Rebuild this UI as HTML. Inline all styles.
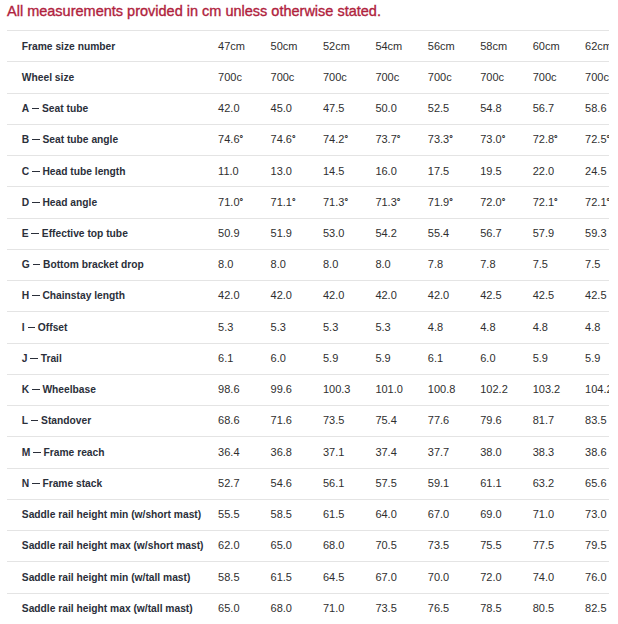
<!DOCTYPE html><html><head><meta charset="utf-8"><style>
html,body{margin:0;padding:0;background:#fff;}
body{width:618px;height:624px;position:relative;overflow:hidden;font-family:"Liberation Sans",sans-serif;}
.t{position:absolute;left:7px;top:4px;font-size:14.5px;color:#b0223d;white-space:nowrap;line-height:1;-webkit-text-stroke:0.35px #b0223d;letter-spacing:0px}
.wrap{position:absolute;left:0;top:0;width:609px;height:624px;overflow:hidden}
.ln{position:absolute;left:7px;width:602px;height:1px;background:#e4e4e4}
.l{position:absolute;left:21.8px;font-weight:bold;font-size:10.25px;color:#2b2f3a;white-space:nowrap;line-height:1;letter-spacing:0px;-webkit-text-stroke:0px #2b2f3a}
.v{position:absolute;font-size:11px;color:#2f2f2f;white-space:nowrap;line-height:1;letter-spacing:0px}
.deg{font-size:9px;-webkit-text-stroke:0.3px #2f2f2f;vertical-align:1.5px}
.d{display:inline-block;width:7.5px;height:1.2px;background:#2b2f3a;vertical-align:2.6px}
</style></head><body>
<div class="t">All measurements provided in cm unless otherwise stated.</div>
<div class="wrap">
<div class="ln" style="top:30.20px"></div>
<div class="ln" style="top:61.44px"></div>
<div class="ln" style="top:92.68px"></div>
<div class="ln" style="top:123.92px"></div>
<div class="ln" style="top:155.16px"></div>
<div class="ln" style="top:186.40px"></div>
<div class="ln" style="top:217.64px"></div>
<div class="ln" style="top:248.88px"></div>
<div class="ln" style="top:280.12px"></div>
<div class="ln" style="top:311.36px"></div>
<div class="ln" style="top:342.60px"></div>
<div class="ln" style="top:373.84px"></div>
<div class="ln" style="top:405.08px"></div>
<div class="ln" style="top:436.32px"></div>
<div class="ln" style="top:467.56px"></div>
<div class="ln" style="top:498.80px"></div>
<div class="ln" style="top:530.04px"></div>
<div class="ln" style="top:561.28px"></div>
<div class="ln" style="top:592.52px"></div>
<div class="l" style="top:42.00px">Frame size number</div>
<div class="v" style="left:218.10px;top:41.00px">47cm</div>
<div class="v" style="left:270.53px;top:41.00px">50cm</div>
<div class="v" style="left:322.96px;top:41.00px">52cm</div>
<div class="v" style="left:375.39px;top:41.00px">54cm</div>
<div class="v" style="left:427.82px;top:41.00px">56cm</div>
<div class="v" style="left:480.25px;top:41.00px">58cm</div>
<div class="v" style="left:532.68px;top:41.00px">60cm</div>
<div class="v" style="left:585.11px;top:41.00px">62cm</div>
<div class="l" style="top:73.00px">Wheel size</div>
<div class="v" style="left:218.10px;top:72.00px">700c</div>
<div class="v" style="left:270.53px;top:72.00px">700c</div>
<div class="v" style="left:322.96px;top:72.00px">700c</div>
<div class="v" style="left:375.39px;top:72.00px">700c</div>
<div class="v" style="left:427.82px;top:72.00px">700c</div>
<div class="v" style="left:480.25px;top:72.00px">700c</div>
<div class="v" style="left:532.68px;top:72.00px">700c</div>
<div class="v" style="left:585.11px;top:72.00px">700c</div>
<div class="l" style="top:104.00px">A <span class="d"></span> Seat tube</div>
<div class="v" style="left:218.10px;top:103.00px">42.0</div>
<div class="v" style="left:270.53px;top:103.00px">45.0</div>
<div class="v" style="left:322.96px;top:103.00px">47.5</div>
<div class="v" style="left:375.39px;top:103.00px">50.0</div>
<div class="v" style="left:427.82px;top:103.00px">52.5</div>
<div class="v" style="left:480.25px;top:103.00px">54.8</div>
<div class="v" style="left:532.68px;top:103.00px">56.7</div>
<div class="v" style="left:585.11px;top:103.00px">58.6</div>
<div class="l" style="top:135.00px">B <span class="d"></span> Seat tube angle</div>
<div class="v" style="left:218.10px;top:134.00px">74.6<span class="deg">°</span></div>
<div class="v" style="left:270.53px;top:134.00px">74.6<span class="deg">°</span></div>
<div class="v" style="left:322.96px;top:134.00px">74.2<span class="deg">°</span></div>
<div class="v" style="left:375.39px;top:134.00px">73.7<span class="deg">°</span></div>
<div class="v" style="left:427.82px;top:134.00px">73.3<span class="deg">°</span></div>
<div class="v" style="left:480.25px;top:134.00px">73.0<span class="deg">°</span></div>
<div class="v" style="left:532.68px;top:134.00px">72.8<span class="deg">°</span></div>
<div class="v" style="left:585.11px;top:134.00px">72.5<span class="deg">°</span></div>
<div class="l" style="top:167.00px">C <span class="d"></span> Head tube length</div>
<div class="v" style="left:218.10px;top:166.00px">11.0</div>
<div class="v" style="left:270.53px;top:166.00px">13.0</div>
<div class="v" style="left:322.96px;top:166.00px">14.5</div>
<div class="v" style="left:375.39px;top:166.00px">16.0</div>
<div class="v" style="left:427.82px;top:166.00px">17.5</div>
<div class="v" style="left:480.25px;top:166.00px">19.5</div>
<div class="v" style="left:532.68px;top:166.00px">22.0</div>
<div class="v" style="left:585.11px;top:166.00px">24.5</div>
<div class="l" style="top:198.00px">D <span class="d"></span> Head angle</div>
<div class="v" style="left:218.10px;top:197.00px">71.0<span class="deg">°</span></div>
<div class="v" style="left:270.53px;top:197.00px">71.1<span class="deg">°</span></div>
<div class="v" style="left:322.96px;top:197.00px">71.3<span class="deg">°</span></div>
<div class="v" style="left:375.39px;top:197.00px">71.3<span class="deg">°</span></div>
<div class="v" style="left:427.82px;top:197.00px">71.9<span class="deg">°</span></div>
<div class="v" style="left:480.25px;top:197.00px">72.0<span class="deg">°</span></div>
<div class="v" style="left:532.68px;top:197.00px">72.1<span class="deg">°</span></div>
<div class="v" style="left:585.11px;top:197.00px">72.1<span class="deg">°</span></div>
<div class="l" style="top:229.00px">E <span class="d"></span> Effective top tube</div>
<div class="v" style="left:218.10px;top:228.00px">50.9</div>
<div class="v" style="left:270.53px;top:228.00px">51.9</div>
<div class="v" style="left:322.96px;top:228.00px">53.0</div>
<div class="v" style="left:375.39px;top:228.00px">54.2</div>
<div class="v" style="left:427.82px;top:228.00px">55.4</div>
<div class="v" style="left:480.25px;top:228.00px">56.7</div>
<div class="v" style="left:532.68px;top:228.00px">57.9</div>
<div class="v" style="left:585.11px;top:228.00px">59.3</div>
<div class="l" style="top:260.00px">G <span class="d"></span> Bottom bracket drop</div>
<div class="v" style="left:218.10px;top:259.00px">8.0</div>
<div class="v" style="left:270.53px;top:259.00px">8.0</div>
<div class="v" style="left:322.96px;top:259.00px">8.0</div>
<div class="v" style="left:375.39px;top:259.00px">8.0</div>
<div class="v" style="left:427.82px;top:259.00px">7.8</div>
<div class="v" style="left:480.25px;top:259.00px">7.8</div>
<div class="v" style="left:532.68px;top:259.00px">7.5</div>
<div class="v" style="left:585.11px;top:259.00px">7.5</div>
<div class="l" style="top:291.00px">H <span class="d"></span> Chainstay length</div>
<div class="v" style="left:218.10px;top:290.00px">42.0</div>
<div class="v" style="left:270.53px;top:290.00px">42.0</div>
<div class="v" style="left:322.96px;top:290.00px">42.0</div>
<div class="v" style="left:375.39px;top:290.00px">42.0</div>
<div class="v" style="left:427.82px;top:290.00px">42.0</div>
<div class="v" style="left:480.25px;top:290.00px">42.5</div>
<div class="v" style="left:532.68px;top:290.00px">42.5</div>
<div class="v" style="left:585.11px;top:290.00px">42.5</div>
<div class="l" style="top:323.00px">I <span class="d"></span> Offset</div>
<div class="v" style="left:218.10px;top:322.00px">5.3</div>
<div class="v" style="left:270.53px;top:322.00px">5.3</div>
<div class="v" style="left:322.96px;top:322.00px">5.3</div>
<div class="v" style="left:375.39px;top:322.00px">5.3</div>
<div class="v" style="left:427.82px;top:322.00px">4.8</div>
<div class="v" style="left:480.25px;top:322.00px">4.8</div>
<div class="v" style="left:532.68px;top:322.00px">4.8</div>
<div class="v" style="left:585.11px;top:322.00px">4.8</div>
<div class="l" style="top:354.00px">J <span class="d"></span> Trail</div>
<div class="v" style="left:218.10px;top:353.00px">6.1</div>
<div class="v" style="left:270.53px;top:353.00px">6.0</div>
<div class="v" style="left:322.96px;top:353.00px">5.9</div>
<div class="v" style="left:375.39px;top:353.00px">5.9</div>
<div class="v" style="left:427.82px;top:353.00px">6.1</div>
<div class="v" style="left:480.25px;top:353.00px">6.0</div>
<div class="v" style="left:532.68px;top:353.00px">5.9</div>
<div class="v" style="left:585.11px;top:353.00px">5.9</div>
<div class="l" style="top:385.00px">K <span class="d"></span> Wheelbase</div>
<div class="v" style="left:218.10px;top:384.00px">98.6</div>
<div class="v" style="left:270.53px;top:384.00px">99.6</div>
<div class="v" style="left:322.96px;top:384.00px">100.3</div>
<div class="v" style="left:375.39px;top:384.00px">101.0</div>
<div class="v" style="left:427.82px;top:384.00px">100.8</div>
<div class="v" style="left:480.25px;top:384.00px">102.2</div>
<div class="v" style="left:532.68px;top:384.00px">103.2</div>
<div class="v" style="left:585.11px;top:384.00px">104.2</div>
<div class="l" style="top:416.00px">L <span class="d"></span> Standover</div>
<div class="v" style="left:218.10px;top:415.00px">68.6</div>
<div class="v" style="left:270.53px;top:415.00px">71.6</div>
<div class="v" style="left:322.96px;top:415.00px">73.5</div>
<div class="v" style="left:375.39px;top:415.00px">75.4</div>
<div class="v" style="left:427.82px;top:415.00px">77.6</div>
<div class="v" style="left:480.25px;top:415.00px">79.6</div>
<div class="v" style="left:532.68px;top:415.00px">81.7</div>
<div class="v" style="left:585.11px;top:415.00px">83.5</div>
<div class="l" style="top:448.00px">M <span class="d"></span> Frame reach</div>
<div class="v" style="left:218.10px;top:447.00px">36.4</div>
<div class="v" style="left:270.53px;top:447.00px">36.8</div>
<div class="v" style="left:322.96px;top:447.00px">37.1</div>
<div class="v" style="left:375.39px;top:447.00px">37.4</div>
<div class="v" style="left:427.82px;top:447.00px">37.7</div>
<div class="v" style="left:480.25px;top:447.00px">38.0</div>
<div class="v" style="left:532.68px;top:447.00px">38.3</div>
<div class="v" style="left:585.11px;top:447.00px">38.6</div>
<div class="l" style="top:479.00px">N <span class="d"></span> Frame stack</div>
<div class="v" style="left:218.10px;top:478.00px">52.7</div>
<div class="v" style="left:270.53px;top:478.00px">54.6</div>
<div class="v" style="left:322.96px;top:478.00px">56.1</div>
<div class="v" style="left:375.39px;top:478.00px">57.5</div>
<div class="v" style="left:427.82px;top:478.00px">59.1</div>
<div class="v" style="left:480.25px;top:478.00px">61.1</div>
<div class="v" style="left:532.68px;top:478.00px">63.2</div>
<div class="v" style="left:585.11px;top:478.00px">65.6</div>
<div class="l" style="top:510.00px">Saddle rail height min (w/short mast)</div>
<div class="v" style="left:218.10px;top:509.00px">55.5</div>
<div class="v" style="left:270.53px;top:509.00px">58.5</div>
<div class="v" style="left:322.96px;top:509.00px">61.5</div>
<div class="v" style="left:375.39px;top:509.00px">64.0</div>
<div class="v" style="left:427.82px;top:509.00px">67.0</div>
<div class="v" style="left:480.25px;top:509.00px">69.0</div>
<div class="v" style="left:532.68px;top:509.00px">71.0</div>
<div class="v" style="left:585.11px;top:509.00px">73.0</div>
<div class="l" style="top:541.00px">Saddle rail height max (w/short mast)</div>
<div class="v" style="left:218.10px;top:540.00px">62.0</div>
<div class="v" style="left:270.53px;top:540.00px">65.0</div>
<div class="v" style="left:322.96px;top:540.00px">68.0</div>
<div class="v" style="left:375.39px;top:540.00px">70.5</div>
<div class="v" style="left:427.82px;top:540.00px">73.5</div>
<div class="v" style="left:480.25px;top:540.00px">75.5</div>
<div class="v" style="left:532.68px;top:540.00px">77.5</div>
<div class="v" style="left:585.11px;top:540.00px">79.5</div>
<div class="l" style="top:573.00px">Saddle rail height min (w/tall mast)</div>
<div class="v" style="left:218.10px;top:572.00px">58.5</div>
<div class="v" style="left:270.53px;top:572.00px">61.5</div>
<div class="v" style="left:322.96px;top:572.00px">64.5</div>
<div class="v" style="left:375.39px;top:572.00px">67.0</div>
<div class="v" style="left:427.82px;top:572.00px">70.0</div>
<div class="v" style="left:480.25px;top:572.00px">72.0</div>
<div class="v" style="left:532.68px;top:572.00px">74.0</div>
<div class="v" style="left:585.11px;top:572.00px">76.0</div>
<div class="l" style="top:604.00px">Saddle rail height max (w/tall mast)</div>
<div class="v" style="left:218.10px;top:603.00px">65.0</div>
<div class="v" style="left:270.53px;top:603.00px">68.0</div>
<div class="v" style="left:322.96px;top:603.00px">71.0</div>
<div class="v" style="left:375.39px;top:603.00px">73.5</div>
<div class="v" style="left:427.82px;top:603.00px">76.5</div>
<div class="v" style="left:480.25px;top:603.00px">78.5</div>
<div class="v" style="left:532.68px;top:603.00px">80.5</div>
<div class="v" style="left:585.11px;top:603.00px">82.5</div>
</div></body></html>
